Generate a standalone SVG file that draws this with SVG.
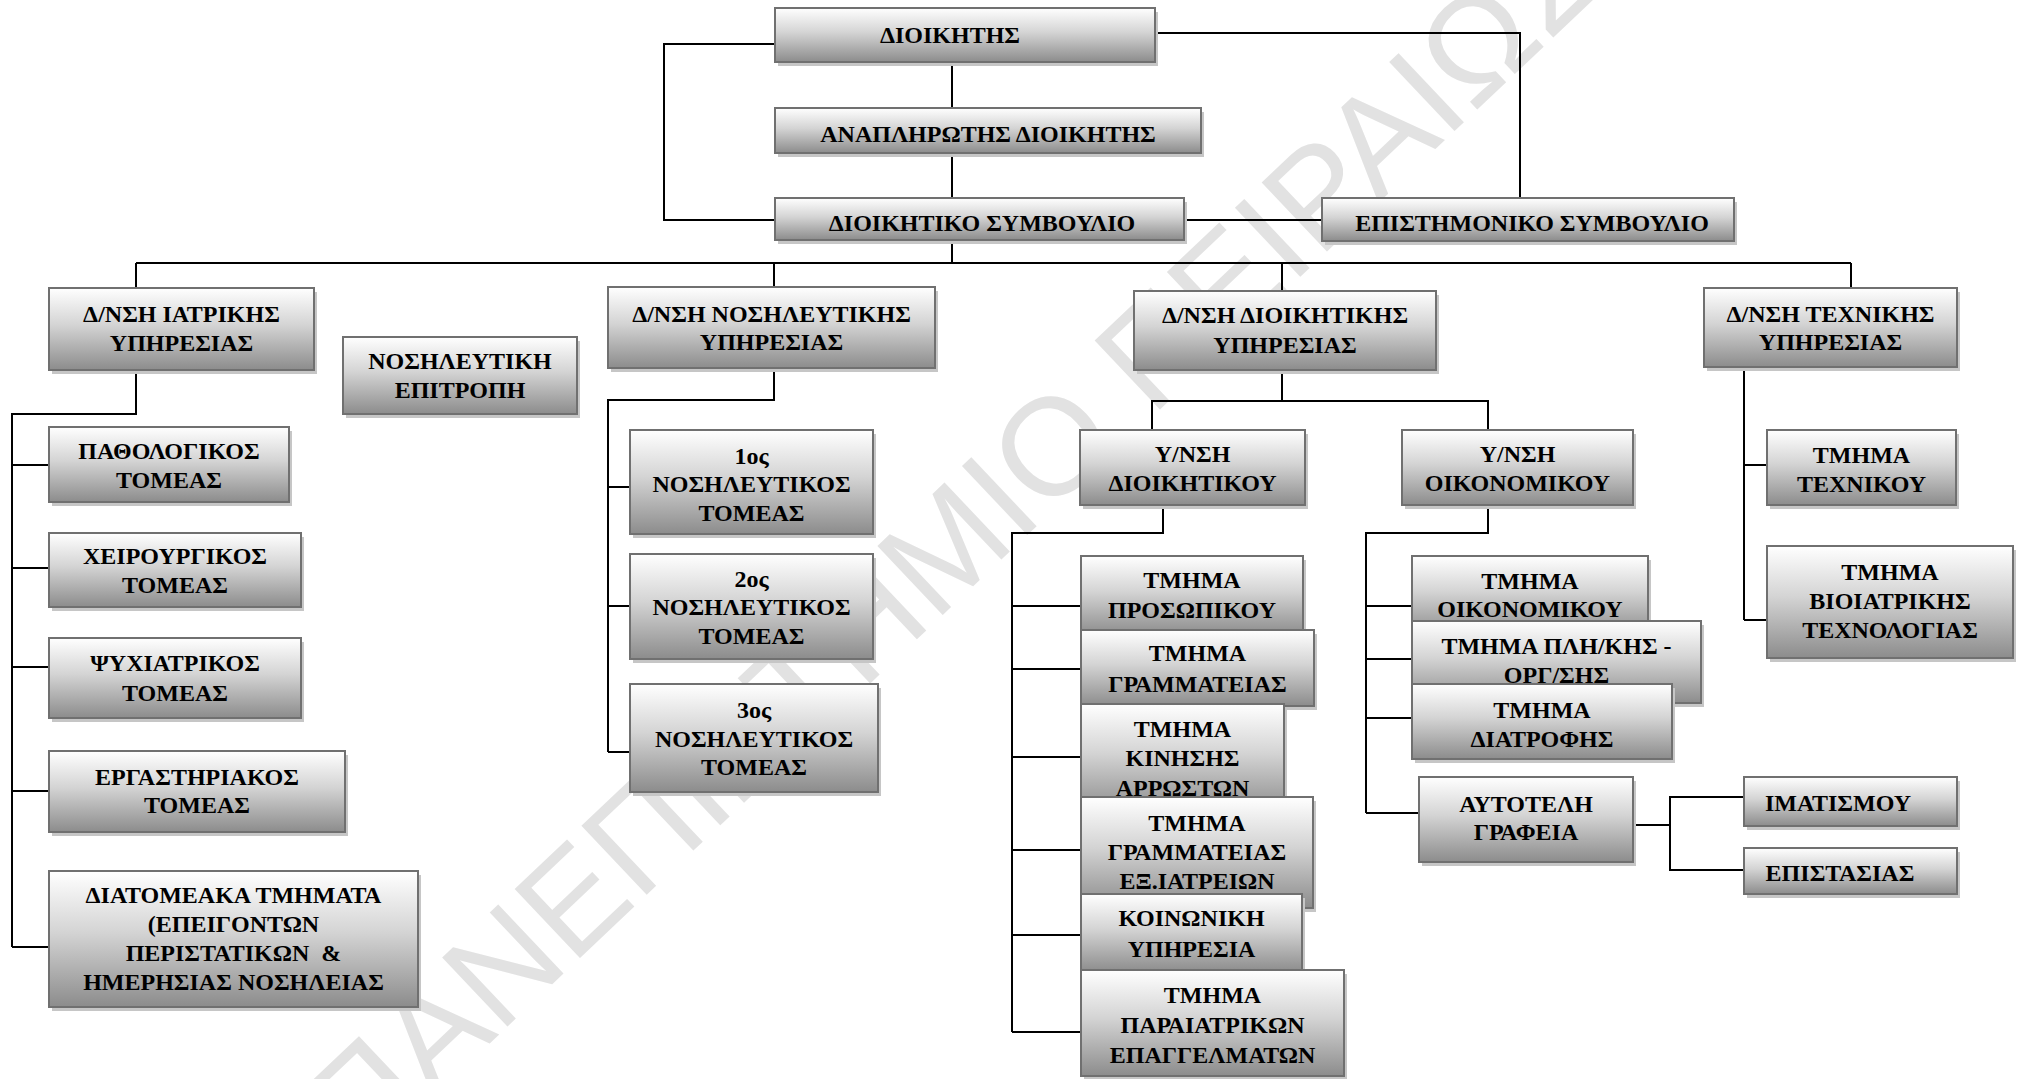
<svg xmlns="http://www.w3.org/2000/svg" width="2022" height="1079" viewBox="0 0 2022 1079">
<defs>
<linearGradient id="g" x1="0" y1="0" x2="0" y2="1">
<stop offset="0" stop-color="#ffffff"/>
<stop offset="0.45" stop-color="#d4d4d4"/>
<stop offset="1" stop-color="#8c8c8c"/>
</linearGradient>
<style>
.bx{fill:url(#g);stroke:#707070;stroke-width:2}
.sh{fill:#c6c6c6}
.t{font-family:"Liberation Serif","Times New Roman",serif;font-weight:bold;font-size:24px;fill:#000;text-anchor:middle}
.c{fill:none;stroke:#000;stroke-width:2}
.wm{font-family:"Liberation Sans",Arial,sans-serif;font-size:138px;fill:#e2e2e2}
</style>
</defs>
<rect width="2022" height="1079" fill="#fff"/>
<text class="wm" x="360" y="1166" transform="rotate(-43.4 360 1166)">ΠΑΝΕΠΙΣΤΗΜΙΟ ΠΕΙΡΑΙΩΣ</text>

<g id="connectors" class="c">
<path d="M775 44H664V220H775"/>
<path d="M1155 33H1520V198"/>
<path d="M952 62V108M952 153V198M952 240V263"/>
<path d="M1184 220H1321"/>
<path d="M136 263H1851"/>
<path d="M136 263V288M774 263V287M1282 263V291M1851 263V288"/>
<path d="M136 370V414H12V947"/>
<path d="M12 465H49M12 568H49M12 667H49M12 791H49M12 947H49"/>
<path d="M774 368V400H608V752"/>
<path d="M608 487H630M608 606H630M608 752H630"/>
<path d="M1282 370V401M1152 430V401H1488V430"/>
<path d="M1163 505V533H1012V1032"/>
<path d="M1012 606H1081M1012 669H1081M1012 757H1081M1012 850H1081M1012 935H1081M1012 1032H1081"/>
<path d="M1488 505V533H1366V813"/>
<path d="M1366 606H1412M1366 659H1412M1366 718H1412M1366 813H1419"/>
<path d="M1633 825H1670M1744 797H1670V870H1744"/>
<path d="M1744 367V620M1744 465H1767M1744 620H1767"/>
</g>

<g id="n-dioikitis"><rect class="sh" x="778" y="12" width="380" height="54"/><rect class="bx" x="775" y="8" width="380" height="54"/><text class="t" x="950" y="43">ΔΙΟΙΚΗΤΗΣ</text></g>
<g id="n-anaplirotis"><rect class="sh" x="778" y="112" width="426" height="45"/><rect class="bx" x="775" y="108" width="426" height="45"/><text class="t" x="988" y="142">ΑΝΑΠΛΗΡΩΤΗΣ ΔΙΟΙΚΗΤΗΣ</text></g>
<g id="n-ds"><rect class="sh" x="778" y="202" width="409" height="42"/><rect class="bx" x="775" y="198" width="409" height="42"/><text class="t" x="982" y="231">ΔΙΟΙΚΗΤΙΚΟ ΣΥΜΒΟΥΛΙΟ</text></g>
<g id="n-es"><rect class="sh" x="1325" y="202" width="412" height="43"/><rect class="bx" x="1322" y="198" width="412" height="43"/><text class="t" x="1532" y="231">ΕΠΙΣΤΗΜΟΝΙΚΟ ΣΥΜΒΟΥΛΙΟ</text></g>

<g id="n-iatr"><rect class="sh" x="52" y="292" width="265" height="82"/><rect class="bx" x="49" y="288" width="265" height="82"/><text class="t"><tspan x="181.5" y="322">Δ/ΝΣΗ ΙΑΤΡΙΚΗΣ</tspan><tspan x="181.5" y="351">ΥΠΗΡΕΣΙΑΣ</tspan></text></g>
<g id="n-nosepit"><rect class="sh" x="346" y="341" width="234" height="77"/><rect class="bx" x="343" y="337" width="234" height="77"/><text class="t"><tspan x="460" y="368.5">ΝΟΣΗΛΕΥΤΙΚΗ</tspan><tspan x="460" y="397.5">ΕΠΙΤΡΟΠΗ</tspan></text></g>
<g id="n-nosil"><rect class="sh" x="611" y="291" width="327" height="81"/><rect class="bx" x="608" y="287" width="327" height="81"/><text class="t"><tspan x="771.5" y="322">Δ/ΝΣΗ ΝΟΣΗΛΕΥΤΙΚΗΣ</tspan><tspan x="771.5" y="350">ΥΠΗΡΕΣΙΑΣ</tspan></text></g>
<g id="n-dioik"><rect class="sh" x="1137" y="295" width="302" height="79"/><rect class="bx" x="1134" y="291" width="302" height="79"/><text class="t"><tspan x="1285" y="323">Δ/ΝΣΗ ΔΙΟΙΚΗΤΙΚΗΣ</tspan><tspan x="1285" y="353">ΥΠΗΡΕΣΙΑΣ</tspan></text></g>
<g id="n-texn"><rect class="sh" x="1707" y="292" width="253" height="79"/><rect class="bx" x="1704" y="288" width="253" height="79"/><text class="t"><tspan x="1830.5" y="322">Δ/ΝΣΗ ΤΕΧΝΙΚΗΣ</tspan><tspan x="1830.5" y="350">ΥΠΗΡΕΣΙΑΣ</tspan></text></g>

<g id="n-path"><rect class="sh" x="52" y="431" width="240" height="75"/><rect class="bx" x="49" y="427" width="240" height="75"/><text class="t"><tspan x="169" y="459">ΠΑΘΟΛΟΓΙΚΟΣ</tspan><tspan x="169" y="488">ΤΟΜΕΑΣ</tspan></text></g>
<g id="n-xeir"><rect class="sh" x="52" y="537" width="252" height="74"/><rect class="bx" x="49" y="533" width="252" height="74"/><text class="t"><tspan x="175" y="564">ΧΕΙΡΟΥΡΓΙΚΟΣ</tspan><tspan x="175" y="593">ΤΟΜΕΑΣ</tspan></text></g>
<g id="n-psyx"><rect class="sh" x="52" y="642" width="252" height="80"/><rect class="bx" x="49" y="638" width="252" height="80"/><text class="t"><tspan x="175" y="671">ΨΥΧΙΑΤΡΙΚΟΣ</tspan><tspan x="175" y="701">ΤΟΜΕΑΣ</tspan></text></g>
<g id="n-erg"><rect class="sh" x="52" y="755" width="296" height="81"/><rect class="bx" x="49" y="751" width="296" height="81"/><text class="t"><tspan x="197" y="785">ΕΡΓΑΣΤΗΡΙΑΚΟΣ</tspan><tspan x="197" y="813">ΤΟΜΕΑΣ</tspan></text></g>
<g id="n-diat"><rect class="sh" x="52" y="875" width="369" height="136"/><rect class="bx" x="49" y="871" width="369" height="136"/><text class="t" style="white-space:pre"><tspan x="233.5" y="903">ΔΙΑΤΟΜΕΑΚΑ ΤΜΗΜΑΤΑ</tspan><tspan x="233.5" y="932">(ΕΠΕΙΓΟΝΤΩΝ</tspan><tspan x="233.5" y="961">ΠΕΡΙΣΤΑΤΙΚΩΝ  &amp;</tspan><tspan x="233.5" y="990">ΗΜΕΡΗΣΙΑΣ ΝΟΣΗΛΕΙΑΣ</tspan></text></g>

<g id="n-t1"><rect class="sh" x="633" y="434" width="243" height="104"/><rect class="bx" x="630" y="430" width="243" height="104"/><text class="t"><tspan x="751.5" y="464">1ος</tspan><tspan x="751.5" y="492">ΝΟΣΗΛΕΥΤΙΚΟΣ</tspan><tspan x="751.5" y="521">ΤΟΜΕΑΣ</tspan></text></g>
<g id="n-t2"><rect class="sh" x="633" y="558" width="243" height="105"/><rect class="bx" x="630" y="554" width="243" height="105"/><text class="t"><tspan x="751.5" y="587">2ος</tspan><tspan x="751.5" y="615">ΝΟΣΗΛΕΥΤΙΚΟΣ</tspan><tspan x="751.5" y="644">ΤΟΜΕΑΣ</tspan></text></g>
<g id="n-t3"><rect class="sh" x="633" y="688" width="248" height="108"/><rect class="bx" x="630" y="684" width="248" height="108"/><text class="t"><tspan x="754" y="718">3ος</tspan><tspan x="754" y="747">ΝΟΣΗΛΕΥΤΙΚΟΣ</tspan><tspan x="754" y="775">ΤΟΜΕΑΣ</tspan></text></g>

<g id="n-ydioik"><rect class="sh" x="1083" y="434" width="225" height="75"/><rect class="bx" x="1080" y="430" width="225" height="75"/><text class="t"><tspan x="1192.5" y="462">Υ/ΝΣΗ</tspan><tspan x="1192.5" y="491">ΔΙΟΙΚΗΤΙΚΟΥ</tspan></text></g>
<g id="n-yoik"><rect class="sh" x="1405" y="434" width="231" height="75"/><rect class="bx" x="1402" y="430" width="231" height="75"/><text class="t"><tspan x="1517.5" y="462">Υ/ΝΣΗ</tspan><tspan x="1517.5" y="491">ΟΙΚΟΝΟΜΙΚΟΥ</tspan></text></g>

<g id="n-pros"><rect class="sh" x="1084" y="560" width="222" height="79"/><rect class="bx" x="1081" y="556" width="222" height="79"/><text class="t"><tspan x="1192" y="588">ΤΜΗΜΑ</tspan><tspan x="1192" y="618">ΠΡΟΣΩΠΙΚΟΥ</tspan></text></g>
<g id="n-gram"><rect class="sh" x="1084" y="634" width="233" height="76"/><rect class="bx" x="1081" y="630" width="233" height="76"/><text class="t"><tspan x="1197.5" y="661">ΤΜΗΜΑ</tspan><tspan x="1197.5" y="692">ΓΡΑΜΜΑΤΕΙΑΣ</tspan></text></g>
<g id="n-kin"><rect class="sh" x="1084" y="708" width="203" height="109"/><rect class="bx" x="1081" y="704" width="203" height="109"/><text class="t"><tspan x="1182.5" y="737">ΤΜΗΜΑ</tspan><tspan x="1182.5" y="766">ΚΙΝΗΣΗΣ</tspan><tspan x="1182.5" y="796">ΑΡΡΩΣΤΩΝ</tspan></text></g>
<g id="n-gramex"><rect class="sh" x="1084" y="801" width="232" height="111"/><rect class="bx" x="1081" y="797" width="232" height="111"/><text class="t"><tspan x="1197" y="831">ΤΜΗΜΑ</tspan><tspan x="1197" y="860">ΓΡΑΜΜΑΤΕΙΑΣ</tspan><tspan x="1197" y="889">ΕΞ.ΙΑΤΡΕΙΩΝ</tspan></text></g>
<g id="n-koin"><rect class="sh" x="1084" y="898" width="221" height="78"/><rect class="bx" x="1081" y="894" width="221" height="78"/><text class="t"><tspan x="1191.5" y="926">ΚΟΙΝΩΝΙΚΗ</tspan><tspan x="1191.5" y="957">ΥΠΗΡΕΣΙΑ</tspan></text></g>
<g id="n-para"><rect class="sh" x="1084" y="974" width="263" height="106"/><rect class="bx" x="1081" y="970" width="263" height="106"/><text class="t"><tspan x="1212.5" y="1003">ΤΜΗΜΑ</tspan><tspan x="1212.5" y="1033">ΠΑΡΑΙΑΤΡΙΚΩΝ</tspan><tspan x="1212.5" y="1063">ΕΠΑΓΓΕΛΜΑΤΩΝ</tspan></text></g>

<g id="n-toik"><rect class="sh" x="1415" y="560" width="236" height="79"/><rect class="bx" x="1412" y="556" width="236" height="79"/><text class="t"><tspan x="1530" y="589">ΤΜΗΜΑ</tspan><tspan x="1530" y="617">ΟΙΚΟΝΟΜΙΚΟΥ</tspan></text></g>
<g id="n-pli"><rect class="sh" x="1415" y="625" width="289" height="82"/><rect class="bx" x="1412" y="621" width="289" height="82"/><text class="t"><tspan x="1556.5" y="654">ΤΜΗΜΑ ΠΛΗ/ΚΗΣ -</tspan><tspan x="1556.5" y="683">ΟΡΓ/ΣΗΣ</tspan></text></g>
<g id="n-diatr"><rect class="sh" x="1415" y="688" width="260" height="75"/><rect class="bx" x="1412" y="684" width="260" height="75"/><text class="t"><tspan x="1542" y="718">ΤΜΗΜΑ</tspan><tspan x="1542" y="747">ΔΙΑΤΡΟΦΗΣ</tspan></text></g>
<g id="n-aytot"><rect class="sh" x="1422" y="781" width="214" height="85"/><rect class="bx" x="1419" y="777" width="214" height="85"/><text class="t"><tspan x="1526" y="812">ΑΥΤΟΤΕΛΗ</tspan><tspan x="1526" y="840">ΓΡΑΦΕΙΑ</tspan></text></g>
<g id="n-imat"><rect class="sh" x="1747" y="781" width="213" height="49"/><rect class="bx" x="1744" y="777" width="213" height="49"/><text class="t" x="1838" y="811">ΙΜΑΤΙΣΜΟΥ</text></g>
<g id="n-epist"><rect class="sh" x="1747" y="852" width="213" height="46"/><rect class="bx" x="1744" y="848" width="213" height="46"/><text class="t" x="1840" y="881">ΕΠΙΣΤΑΣΙΑΣ</text></g>

<g id="n-ttexn"><rect class="sh" x="1770" y="434" width="189" height="75"/><rect class="bx" x="1767" y="430" width="189" height="75"/><text class="t"><tspan x="1861.5" y="463">ΤΜΗΜΑ</tspan><tspan x="1861.5" y="492">ΤΕΧΝΙΚΟΥ</tspan></text></g>
<g id="n-bio"><rect class="sh" x="1770" y="550" width="246" height="112"/><rect class="bx" x="1767" y="546" width="246" height="112"/><text class="t"><tspan x="1890" y="580">ΤΜΗΜΑ</tspan><tspan x="1890" y="609">ΒΙΟΙΑΤΡΙΚΗΣ</tspan><tspan x="1890" y="638">ΤΕΧΝΟΛΟΓΙΑΣ</tspan></text></g>
</svg>
